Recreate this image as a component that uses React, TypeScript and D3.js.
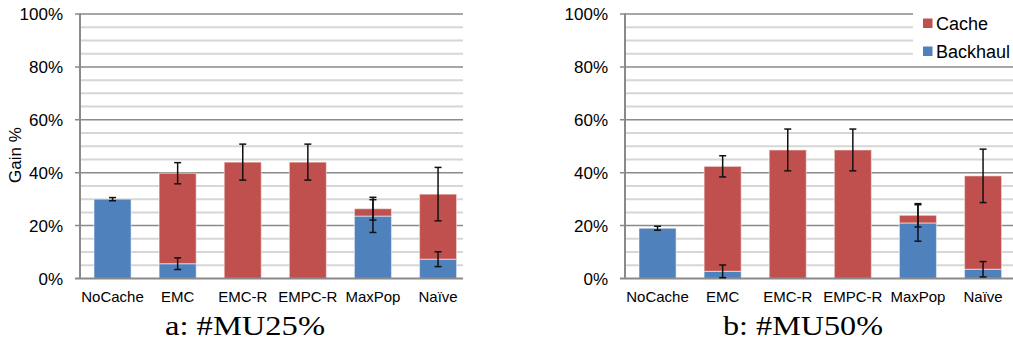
import React from "react";
import * as d3 from "d3";

// Strategy labels along the x axis
const categories = ["NoCache", "EMC", "EMC-R", "EMPC-R", "MaxPop", "Naïve"];

// #MU 25%: stacked gains (percent) and error half-widths
const mu25Backhaul = [30.0, 5.6, 0, 0, 23.6, 7.3];
const mu25Cache = [0, 34.2, 44.0, 44.0, 2.8, 24.6];
const mu25BackhaulErr = [0.6, 2.2, 0, 0, 6.2, 2.8];
const mu25TotalErr = [0, 4.0, 6.8, 6.8, 4.3, 10.1];

// #MU 50%
const mu50Backhaul = [19.0, 2.7, 0, 0, 21.0, 3.5];
const mu50Cache = [0, 39.7, 48.6, 48.6, 2.9, 35.3];
const mu50BackhaulErr = [0.75, 2.4, 0, 0, 6.9, 2.9];
const mu50TotalErr = [0, 4.0, 7.9, 7.9, 4.4, 10.1];

const yMajorTicks = [0, 20, 40, 60, 80, 100];
const yMinorTicks = d3.range(0, 101, 5);

const seriesNames = ["Cache", "Backhaul"];
const BLUE = "#4f81bd";
const RED = "#c0504d";
const SANS = "'Liberation Sans', Arial, sans-serif";
const SERIF = "'Liberation Serif', 'Times New Roman', serif";

const Y_TOP = 14;
const Y_BOTTOM = 278.5;
const BAND = 65.1;

type PanelProps = {
  left: number;
  clipRight: number;
  backhaul: number[];
  cache: number[];
  backhaulErr: number[];
  totalErr: number[];
  title: string;
  titleX: number;
  showYTitle?: boolean;
  showLegend?: boolean;
};

function Panel(p: PanelProps) {
  const x = d3
    .scaleBand<string>()
    .domain(categories)
    .range([p.left, p.left + BAND * categories.length])
    .paddingInner(0.43)
    .paddingOuter(0.215);
  const y = d3.scaleLinear().domain([0, 100]).range([Y_BOTTOM, Y_TOP]);
  const gridRight = Math.min(p.clipRight, p.left + BAND * categories.length);
  const bw = x.bandwidth();
  const cap = 3.5;

  const errBar = (cx: number, v: number, e: number, key: string) =>
    e > 0 ? (
      <g key={key} stroke="#111" strokeWidth={1.5}>
        <line x1={cx} x2={cx} y1={y(v + e)} y2={y(v - e)} />
        <line x1={cx - cap} x2={cx + cap} y1={y(v + e)} y2={y(v + e)} />
        <line x1={cx - cap} x2={cx + cap} y1={y(v - e)} y2={y(v - e)} />
      </g>
    ) : null;

  return (
    <g>
      {/* minor gridlines every 5% */}
      {yMinorTicks
        .filter((t) => t % 20 !== 0)
        .map((t) => (
          <line
            key={"mn" + t}
            x1={p.left}
            x2={gridRight}
            y1={y(t)}
            y2={y(t)}
            stroke="#d6d6d6"
            strokeWidth={2}
          />
        ))}
      {/* major gridlines every 20% */}
      {yMajorTicks
        .filter((t) => t > 0)
        .map((t) => (
          <line
            key={"mj" + t}
            x1={p.left - 5}
            x2={gridRight}
            y1={y(t)}
            y2={y(t)}
            stroke="#8a8a8a"
            strokeWidth={1.5}
          />
        ))}

      {/* stacked bars */}
      {categories.map((c, i) => {
        const bx = x(c)!;
        const b = p.backhaul[i];
        const k = p.cache[i];
        return (
          <g key={"bar" + c}>
            {b > 0 && (
              <rect
                x={bx}
                y={y(b)}
                width={bw}
                height={y(0) - y(b)}
                fill={BLUE}
                stroke="rgba(255,255,255,0.45)"
                strokeWidth={1.2}
              />
            )}
            {k > 0 && (
              <rect
                x={bx}
                y={y(b + k)}
                width={bw}
                height={y(b) - y(b + k)}
                fill={RED}
                stroke="rgba(255,255,255,0.45)"
                strokeWidth={1.2}
              />
            )}
          </g>
        );
      })}

      {/* axes */}
      <line x1={p.left} x2={p.left} y1={Y_TOP - 0.5} y2={Y_BOTTOM} stroke="#8a8a8a" strokeWidth={2} />
      <line x1={p.left - 5} x2={gridRight} y1={Y_BOTTOM} y2={Y_BOTTOM} stroke="#8a8a8a" strokeWidth={2} />

      {/* error bars */}
      {categories.map((c, i) => {
        const cx = x(c)! + bw / 2;
        const b = p.backhaul[i];
        const total = b + p.cache[i];
        return (
          <g key={"err" + c}>
            {errBar(cx, b, p.backhaulErr[i], "b")}
            {p.cache[i] > 0 && errBar(cx, total, p.totalErr[i], "t")}
          </g>
        );
      })}

      {/* y tick labels */}
      {yMajorTicks.map((t) => (
        <text
          key={"yl" + t}
          x={p.left - 17}
          y={y(t)}
          dy="0.36em"
          textAnchor="end"
          fontFamily={SANS}
          fontSize={17}
          fill="#000"
        >
          {t}%
        </text>
      ))}

      {/* x category labels */}
      {categories.map((c) => (
        <text
          key={"xl" + c}
          x={x(c)! + bw / 2}
          y={302}
          textAnchor="middle"
          fontFamily={SANS}
          fontSize={15}
          fill="#000"
        >
          {c}
        </text>
      ))}

      {p.showYTitle && (
        <text
          transform={`translate(21,155) rotate(-90)`}
          textAnchor="middle"
          fontFamily={SANS}
          fontSize={17}
          fill="#000"
        >
          Gain %
        </text>
      )}

      {p.showLegend && (
        <g>
          <rect x={913} y={8} width={100} height={56} fill="#fff" />
          {seriesNames.map((s, i) => (
            <g key={s}>
              <rect x={923} y={18.5 + i * 28} width={9.5} height={9.5} fill={s === "Cache" ? RED : BLUE} />
              <text x={936} y={23.5 + i * 28} dy="0.36em" fontFamily={SANS} fontSize={18} fill="#000">
                {s}
              </text>
            </g>
          ))}
        </g>
      )}

      <text
        x={p.titleX}
        y={335}
        textAnchor="middle"
        fontFamily={SERIF}
        fontSize={27}
        textLength={160}
        lengthAdjust="spacingAndGlyphs"
        fill="#000"
      >
        {p.title}
      </text>
    </g>
  );
}

export default function App() {
  return (
    <svg
      width={1013}
      height={345}
      style={{ position: "absolute", left: 0, top: 0, background: "#fff" }}
    >
      <rect width={1013} height={345} fill="#fff" />
      <Panel
        left={80}
        clipRight={463}
        backhaul={mu25Backhaul}
        cache={mu25Cache}
        backhaulErr={mu25BackhaulErr}
        totalErr={mu25TotalErr}
        title="a: #MU25%"
        titleX={245}
        showYTitle
      />
      <Panel
        left={625}
        clipRight={1013}
        backhaul={mu50Backhaul}
        cache={mu50Cache}
        backhaulErr={mu50BackhaulErr}
        totalErr={mu50TotalErr}
        title="b: #MU50%"
        titleX={803}
        showLegend
      />
    </svg>
  );
}
